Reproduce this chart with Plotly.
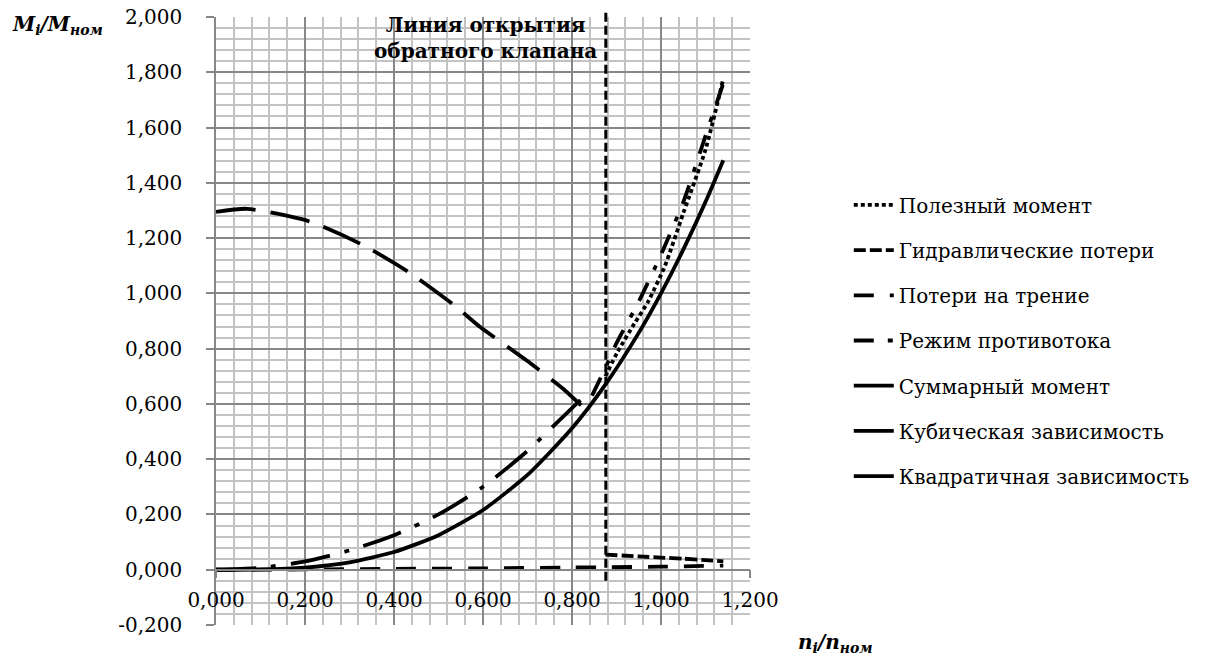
import plotly.graph_objects as go

# ---------------- data ----------------
X_RANGE = [0.0, 1.2]
Y_RANGE = [-0.2, 2.0]
X_TICKS = [0.0, 0.2, 0.4, 0.6, 0.8, 1.0, 1.2]
X_TICK_LABELS = ["0,000", "0,200", "0,400", "0,600", "0,800", "1,000", "1,200"]
Y_TICKS = [-0.2, 0.0, 0.2, 0.4, 0.6, 0.8, 1.0, 1.2, 1.4, 1.6, 1.8, 2.0]
Y_TICK_LABELS = ["-0,200", "0,000", "0,200", "0,400", "0,600", "0,800", "1,000",
                 "1,200", "1,400", "1,600", "1,800", "2,000"]

# Полезный момент
N_USEFUL = [0.875, 0.903, 0.94, 0.971, 1.009, 1.05, 1.1, 1.139]
M_USEFUL = [0.70, 0.79, 0.89, 0.97, 1.10, 1.29, 1.52, 1.77]

# Гидравлические потери
N_HYDR = [0.875, 0.95, 1.0, 1.05, 1.1, 1.14]
M_HYDR = [0.055, 0.048, 0.044, 0.040, 0.035, 0.030]

# Потери на трение
N_FRIC = [0.0, 0.2, 0.4, 0.6, 0.8, 0.875, 1.0, 1.14]
M_FRIC = [0.0, 0.001, 0.003, 0.005, 0.008, 0.009, 0.011, 0.015]

# Режим противотока
N_REV = [0.845, 0.875, 0.9, 0.95, 1.0, 1.05, 1.1, 1.14]
M_REV = [0.63, 0.73, 0.82, 0.97, 1.14, 1.33, 1.57, 1.76]

# Суммарный момент
N_SUM = [0.0, 0.07, 0.21, 0.33, 0.436, 0.537, 0.593, 0.70, 0.78, 0.83]
M_SUM = [1.295, 1.306, 1.26, 1.175, 1.074, 0.955, 0.879, 0.755, 0.655, 0.58]

# Кубическая зависимость
N_CUB = [0.0, 0.1, 0.2, 0.3, 0.4, 0.5, 0.6, 0.7, 0.8, 0.875, 0.95, 1.0, 1.05, 1.1, 1.14]
M_CUB = [0.000, 0.001, 0.008, 0.027, 0.064, 0.125, 0.216, 0.343, 0.512, 0.670,
         0.857, 1.000, 1.158, 1.331, 1.482]

# Квадратичная зависимость
N_QUAD = [0.0, 0.1, 0.2, 0.3, 0.4, 0.5, 0.6, 0.7, 0.8, 0.83]
M_QUAD = [0.0, 0.007, 0.030, 0.070, 0.125, 0.200, 0.300, 0.430, 0.585, 0.63]

# vertical "valve opening" line
OPEN_LINE_X = 0.876
OPEN_LINE_Y = [-0.04, 2.025]

SERIES = [
    ("Полезный момент", N_USEFUL, M_USEFUL, "4px,3px"),
    ("Гидравлические потери", N_HYDR, M_HYDR, "12px,4px"),
    ("Потери на трение", N_FRIC, M_FRIC, "20px,16px"),
    ("Режим противотока", N_REV, M_REV, "20px,14px,5px,14px"),
    ("Суммарный момент", N_SUM, M_SUM, "40px,15px"),
    ("Кубическая зависимость", N_CUB, M_CUB, "solid"),
    ("Квадратичная зависимость", N_QUAD, M_QUAD, "40px,15px,5px,15px"),
]

FONT = "DejaVu Serif, Liberation Serif, serif"
MAJOR = "#878787"
MINOR = "#c3c3c3"

fig = go.Figure()
for i, (name, xs, ys, dash) in enumerate(SERIES):
    fig.add_trace(go.Scatter(
        x=xs, y=ys, mode="lines", name=name, legendgroup=f"g{i}",
        line=dict(color="black", width=3.8, dash=dash, shape="spline", smoothing=0.6),
    ))


def ypaper(v):
    return (v - Y_RANGE[0]) / (Y_RANGE[1] - Y_RANGE[0])


fig.add_shape(type="line", xref="x", yref="paper",
              x0=OPEN_LINE_X, x1=OPEN_LINE_X,
              y0=ypaper(OPEN_LINE_Y[0]), y1=ypaper(OPEN_LINE_Y[1]),
              line=dict(color="black", width=3, dash="9px,4px"))

fig.add_annotation(xref="x", yref="paper", x=OPEN_LINE_X, y=1.010,
                   xanchor="right", yanchor="top", xshift=-7, align="center",
                   showarrow=False,
                   text="<b>Линия открытия<br>обратного клапана</b>",
                   font=dict(family=FONT, size=20, color="black"))

fig.add_annotation(xref="paper", yref="paper", x=-0.385, y=1.012,
                   xanchor="left", yanchor="top", showarrow=False,
                   text="<b><i>M<sub>i</sub>/M<sub>ном</sub></i></b>",
                   font=dict(family=FONT, size=20, color="black"))

fig.add_annotation(xref="paper", yref="paper", x=1.086, y=-0.03,
                   xanchor="left", yanchor="middle", showarrow=False,
                   text="<b><i>n<sub>i</sub>/n<sub>ном</sub></i></b>",
                   font=dict(family=FONT, size=20, color="black"))

fig.update_layout(
    width=1205, height=651,
    margin=dict(l=208, r=463, t=9, b=34, autoexpand=False),
    paper_bgcolor="white", plot_bgcolor="white",
    font=dict(family=FONT, size=20, color="black"),
    showlegend=True,
    legend=dict(x=1.185, y=0.723, xanchor="left", yanchor="top",
                tracegroupgap=16.2, itemwidth=40,
                font=dict(family=FONT, size=20, color="black"),
                bgcolor="rgba(0,0,0,0)"),
    xaxis=dict(
        range=X_RANGE, tickvals=X_TICKS, ticktext=X_TICK_LABELS,
        anchor="free", position=ypaper(0.0), automargin=False,
        showline=True, linecolor=MAJOR, linewidth=1.5,
        ticks="outside", ticklen=8, tickcolor=MAJOR, tickwidth=1.5,
        showgrid=True, gridcolor=MAJOR, gridwidth=1.5,
        minor=dict(dtick=0.04, showgrid=True, gridcolor=MINOR, gridwidth=1.5),
        zeroline=False, ticklabelstandoff=5, ticklabeloverflow="allow",
        tickfont=dict(family=FONT, size=20, color="black"),
    ),
    yaxis=dict(
        range=Y_RANGE, tickvals=Y_TICKS, ticktext=Y_TICK_LABELS, automargin=False,
        showline=True, linecolor=MAJOR, linewidth=1.5,
        ticks="outside", ticklen=8, tickcolor=MAJOR, tickwidth=1.5,
        showgrid=True, gridcolor=MAJOR, gridwidth=1.5,
        minor=dict(dtick=0.04, showgrid=True, gridcolor=MINOR, gridwidth=1.5),
        zeroline=False, ticklabelstandoff=20, ticklabeloverflow="allow",
        tickfont=dict(family=FONT, size=20, color="black"),
    ),
)

fig.write_html("out.html")
